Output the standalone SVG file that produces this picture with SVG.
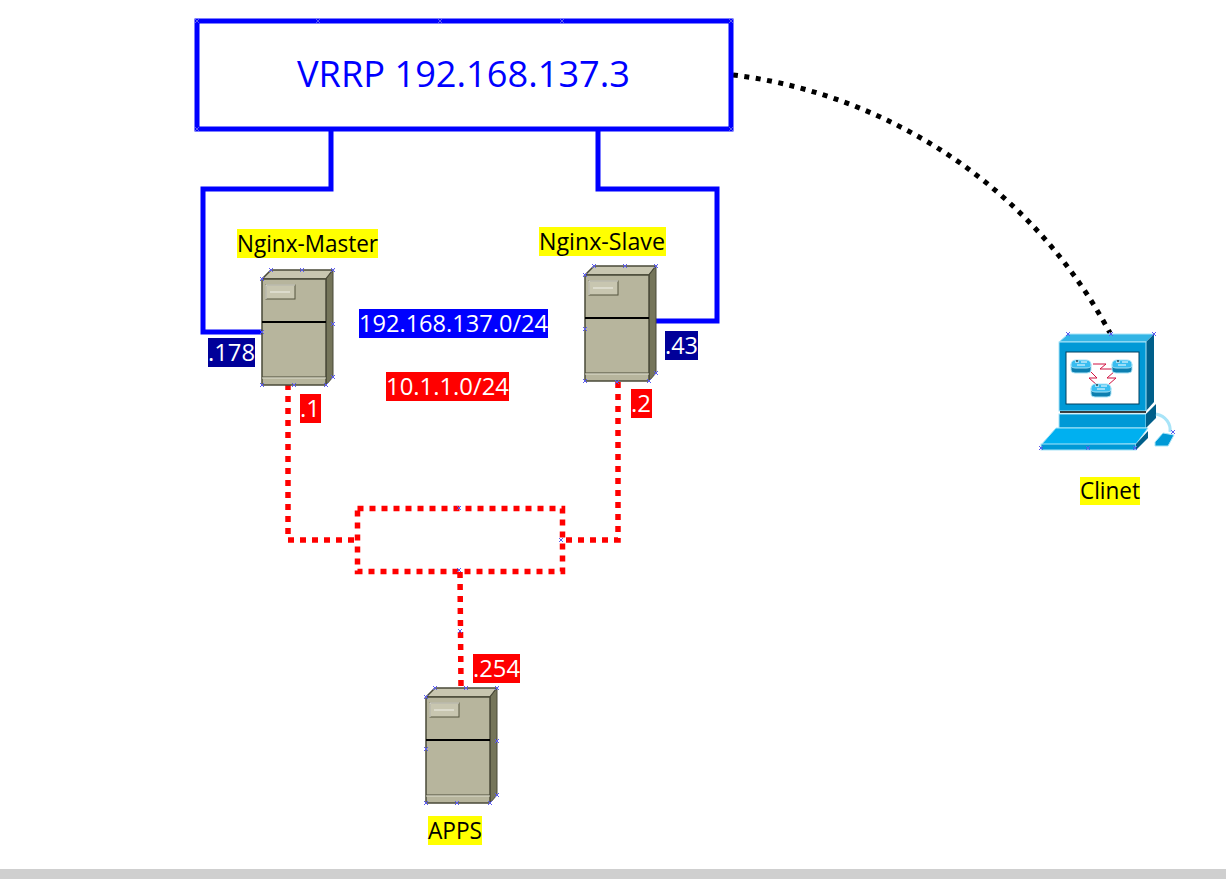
<svg xmlns="http://www.w3.org/2000/svg" width="1226" height="879" viewBox="0 0 1226 879">
<style>
text{font-family:"Open Sans","Noto Sans",sans-serif;font-size:23px}
.w{fill:#fff}.k{fill:#000}
.blue{fill:none;stroke:#0000ff;stroke-width:5}
.red{fill:none;stroke:#ff0000;stroke-width:5.500;stroke-dasharray:6 6}
.x{fill:none;stroke:#5b5bf0;stroke-width:1}
</style>
<defs>
<path id="x" class="x" d="M-2,-2 L2,2 M-2,2 L2,-2"/>
<g id="server">
<polygon points="0,9 9,0 71,0 64,9" fill="#c8c6b0" stroke="#4a4a38" stroke-width="1.500"/>
<polygon points="64,9 71,0 71,107 64,115" fill="#75755a" stroke="#4a4a38" stroke-width="1"/>
<rect x="0" y="9" width="64" height="106" fill="#b7b59d" stroke="#4a4a38" stroke-width="1.500"/>
<line x1="0" y1="52" x2="64" y2="52" stroke="#000" stroke-width="2"/>
<line x1="0" y1="107" x2="64" y2="107" stroke="#4a4a38" stroke-width="1"/>
<line x1="0" y1="108" x2="64" y2="108" stroke="#e0e0d0" stroke-width="1"/>
<rect x="4" y="15" width="29" height="14" fill="#c8c6b0" stroke="#55553f" stroke-width="1"/>
<path d="M4,29 V15 H33" fill="none" stroke="#eeeee6" stroke-width="1"/>
<line x1="8" y1="22" x2="28" y2="22" stroke="#f0f0e8"/>
<use href="#x" x="9" y="0"/><use href="#x" x="40" y="0"/><use href="#x" x="71" y="0"/>
<use href="#x" x="0" y="9"/><use href="#x" x="0" y="115"/><use href="#x" x="64" y="115"/><use href="#x" x="71" y="107"/>
</g>
<g id="router">
<path d="M-10,-1 V5 Q-10,8 -6,8 H6 Q10,8 10,5 V-1 Z" fill="#0c7fb0" stroke="#a8e4f8"/>
<path d="M-10,0 Q-10,-5 -5,-5 H5 Q10,-5 10,0 Q10,3 5,3 H-5 Q-10,3 -10,0 Z" fill="#39bdf0" stroke="#a8e4f8"/>
<path d="M-6,-3 H-2 M0,-3 H6 M-4,0 H4" stroke="#fff" stroke-width="1"/>
<path d="M-5,-4 H-3" stroke="#000" stroke-width="1"/>
</g>
</defs>
<rect x="0" y="869" width="1226" height="10" fill="#cfcfcf"/>
<g id="connectors">
<polyline class="blue" points="331,130 331,189 203,189 203,332 262,332"/>
<polyline class="blue" points="598,130 598,189 717,189 717,321 656,321"/>
<polyline class="red" points="288,384 288,540 357,540"/>
<polyline class="red" points="618,382 618,540 562,540"/>
<polyline class="red" points="460,572 461,686"/>
<path d="M733,75 C860,90 1020,165 1110,333" fill="none" stroke="#000" stroke-width="5" stroke-dasharray="5 6.500"/>
<use href="#x" x="460" y="631"/>
</g>
<g id="vrrp">
<rect x="197" y="21" width="534" height="108" fill="#fff" stroke="#0000ff" stroke-width="5"/>
<text x="297" y="87" fill="#0000ff" textLength="333" lengthAdjust="spacingAndGlyphs" style="font-size:36px">VRRP 192.168.137.3</text>
<use href="#x" x="197" y="21"/><use href="#x" x="318" y="21"/><use href="#x" x="440" y="21"/><use href="#x" x="562" y="21"/><use href="#x" x="731" y="21"/><use href="#x" x="197" y="129"/><use href="#x" x="731" y="129"/>
</g>
<g id="switch"><rect x="357.500" y="508.500" width="205" height="63" class="red"/><use href="#x" x="459" y="508"/><use href="#x" x="561" y="540"/><use href="#x" x="459" y="570"/></g>
<g id="nginx-master">
<use href="#server" x="262" y="270"/><use href="#x" x="333" y="324"/><use href="#x" x="294" y="385"/><use href="#x" x="262" y="332"/>
<rect x="237" y="229" width="141" height="29" fill="#ff0"/><text x="237" y="252" class="k" textLength="141" lengthAdjust="spacingAndGlyphs">Nginx-Master</text>
</g>
<g id="nginx-slave">
<use href="#server" x="585" y="266"/><use href="#x" x="585" y="329"/><use href="#x" x="617" y="382"/>
<rect x="539" y="227" width="127" height="29" fill="#ff0"/><text x="539" y="250" class="k" textLength="126" lengthAdjust="spacingAndGlyphs">Nginx-Slave</text>
</g>
<g id="apps">
<use href="#server" x="426" y="688"/><use href="#x" x="426" y="749"/><use href="#x" x="497" y="741"/><use href="#x" x="457" y="803"/>
<rect x="428" y="816" width="54" height="29" fill="#ff0"/><text x="428" y="839" class="k" textLength="54" lengthAdjust="spacingAndGlyphs">APPS</text>
</g>
<g id="client">
<polygon points="1059,342 1068,334 1154,334 1146,342" fill="#33b5e5" stroke="#a8e4f8"/>
<polygon points="1146,342 1154,334 1154,402 1146,411" fill="#005f8a"/>
<rect x="1059" y="342" width="87" height="69" fill="#0099d6" stroke="#a8e4f8"/>
<rect x="1066" y="352" width="73" height="52" fill="#fff" stroke="#004060" stroke-width="1"/>
<rect x="1059" y="414" width="87" height="14" fill="#0099d6" stroke="#a8e4f8"/>
<polygon points="1146,414 1156,404 1156,418 1146,428" fill="#005f8a"/>
<line x1="1060" y1="412" x2="1146" y2="412" stroke="#000" stroke-width="1.500"/>
<path d="M1156,414 C1166,416 1171,424 1170,432" fill="none" stroke="#a8e4f8" stroke-width="3"/>
<polygon points="1041,445 1056,428 1148,428 1136,444" fill="#00b0f0" stroke="#a8e4f8"/>
<rect x="1041" y="444" width="95" height="6" fill="#0099d6" stroke="#a8e4f8"/>
<polygon points="1136,450 1136,444 1148,431 1148,438" fill="#005f8a"/>
<polygon points="1155,442 1163,433 1174,435 1168,446 1155,446" fill="#0099d6" stroke="#a8e4f8"/>
<path d="M1093,364 H1106 L1100,369 H1112 M1090,371 L1097,378 H1089 L1097,385 M1115,371 L1107,378 H1116 L1108,385" fill="none" stroke="#d01040" stroke-width="1"/>
<use href="#router" x="1081" y="365"/><use href="#router" x="1122" y="365"/><use href="#router" x="1101" y="389"/>
<use href="#x" x="1068" y="334"/><use href="#x" x="1111" y="334"/><use href="#x" x="1154" y="334"/><use href="#x" x="1041" y="448"/><use href="#x" x="1088" y="448"/><use href="#x" x="1135" y="448"/><use href="#x" x="1173" y="432"/>
<rect x="1080" y="477" width="60" height="28" fill="#ff0"/><text x="1080" y="499" class="k" textLength="60" lengthAdjust="spacingAndGlyphs">Clinet</text>
</g>
<g id="labels">
<rect x="359" y="309" width="189" height="29" fill="#0000ff"/><text x="359" y="332" class="w" textLength="189" lengthAdjust="spacingAndGlyphs">192.168.137.0/24</text>
<rect x="386" y="372" width="123" height="29" fill="#ff0000"/><text x="386" y="395" class="w" textLength="123" lengthAdjust="spacingAndGlyphs">10.1.1.0/24</text>
<rect x="208" y="338" width="47" height="29" fill="#000099"/><text x="208" y="361" class="w" textLength="47" lengthAdjust="spacingAndGlyphs">.178</text>
<rect x="665" y="331" width="33" height="29" fill="#000099"/><text x="665" y="354" class="w" textLength="33" lengthAdjust="spacingAndGlyphs">.43</text>
<rect x="300" y="394" width="21" height="29" fill="#ff0000"/><text x="300" y="417" class="w" textLength="20" lengthAdjust="spacingAndGlyphs">.1</text>
<rect x="631" y="389" width="21" height="29" fill="#ff0000"/><text x="631" y="412" class="w" textLength="20" lengthAdjust="spacingAndGlyphs">.2</text>
<rect x="473" y="654" width="47" height="29" fill="#ff0000"/><text x="473" y="677" class="w" textLength="47" lengthAdjust="spacingAndGlyphs">.254</text>
</g>
</svg>
